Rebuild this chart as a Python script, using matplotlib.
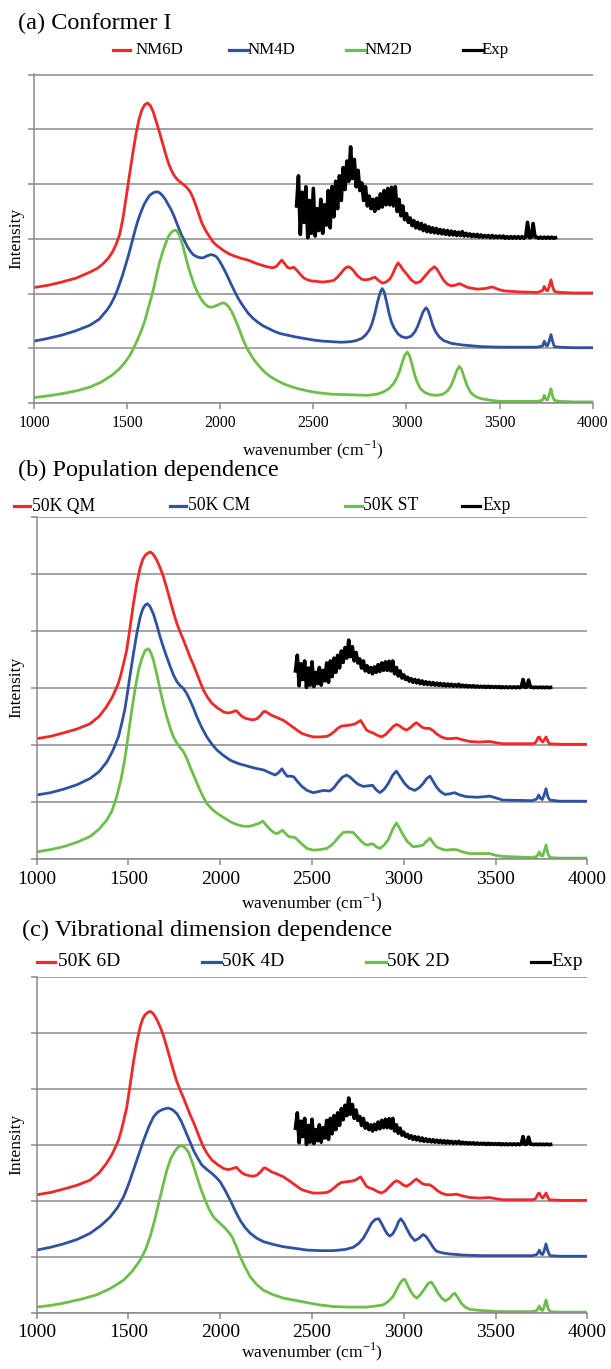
import numpy as np
import matplotlib
matplotlib.use("Agg")
import matplotlib.pyplot as plt
from matplotlib.lines import Line2D

plt.rcParams['font.family'] = ['Liberation Serif', 'DejaVu Serif']
plt.rcParams['mathtext.fontset'] = 'custom'
plt.rcParams['mathtext.rm'] = 'Liberation Serif'

# colours
c_red = '#f02828'
c_blue = '#3050a0'
c_green = '#6ebe4a'
c_grid = '#8a8a8a'

# spectra as (wavenumber, intensity) pairs, intensity in grid units (0..6)
# ---------------- (a) Conformer I ----------------
a_nm6d = [(1000, 2.11), (1075, 2.15), (1150, 2.21), (1225, 2.28), (1300, 2.39), (1340, 2.46),
          (1370, 2.54), (1400, 2.65), (1420, 2.75), (1440, 2.89), (1460, 3.08), (1478, 3.38),
          (1495, 3.76), (1512, 4.15), (1530, 4.55), (1548, 4.92), (1565, 5.20), (1580, 5.36),
          (1595, 5.45), (1610, 5.48), (1625, 5.43), (1640, 5.32), (1660, 5.10), (1675, 4.93),
          (1690, 4.75), (1705, 4.57), (1720, 4.40), (1735, 4.27), (1750, 4.17), (1765, 4.10),
          (1780, 4.05), (1795, 4.01), (1810, 3.97), (1825, 3.92), (1840, 3.85), (1855, 3.74),
          (1870, 3.60), (1885, 3.45), (1900, 3.30), (1920, 3.16), (1940, 3.05), (1960, 2.95),
          (1980, 2.88), (2000, 2.83), (2020, 2.78), (2050, 2.72), (2080, 2.68), (2115, 2.64),
          (2150, 2.61), (2185, 2.56), (2220, 2.52), (2250, 2.49), (2280, 2.47), (2300, 2.49),
          (2315, 2.55), (2330, 2.61), (2345, 2.55), (2360, 2.48), (2375, 2.46), (2395, 2.48),
          (2410, 2.43), (2430, 2.35), (2450, 2.28), (2470, 2.25), (2490, 2.23), (2520, 2.22),
          (2550, 2.21), (2580, 2.22), (2610, 2.24), (2630, 2.30), (2650, 2.38), (2670, 2.46),
          (2685, 2.49), (2700, 2.47), (2715, 2.42), (2735, 2.33), (2760, 2.26), (2780, 2.25),
          (2800, 2.26), (2815, 2.28), (2830, 2.30), (2850, 2.24), (2870, 2.19), (2890, 2.21),
          (2910, 2.26), (2925, 2.35), (2940, 2.47), (2955, 2.56), (2965, 2.52), (2980, 2.44),
          (3000, 2.36), (3025, 2.25), (3050, 2.19), (3075, 2.22), (3100, 2.32), (3125, 2.42),
          (3150, 2.49), (3165, 2.44), (3180, 2.35), (3200, 2.24), (3220, 2.17), (3240, 2.14),
          (3260, 2.15), (3285, 2.18), (3305, 2.15), (3330, 2.11), (3380, 2.08), (3420, 2.09),
          (3460, 2.12), (3490, 2.08), (3520, 2.05), (3600, 2.03), (3700, 2.02), (3730, 2.05),
          (3740, 2.13), (3750, 2.06), (3758, 2.05), (3768, 2.15), (3776, 2.25), (3785, 2.12),
          (3794, 2.04), (3820, 2.02), (3900, 2.01), (4000, 2.01)]

a_nm4d = [(1000, 1.13), (1075, 1.18), (1150, 1.24), (1225, 1.32), (1300, 1.42), (1350, 1.53),
          (1390, 1.69), (1410, 1.79), (1430, 1.92), (1445, 2.04), (1460, 2.18), (1475, 2.33),
          (1490, 2.50), (1505, 2.67), (1520, 2.86), (1540, 3.12), (1555, 3.30), (1570, 3.45),
          (1590, 3.62), (1605, 3.71), (1620, 3.79), (1640, 3.84), (1660, 3.86), (1675, 3.84),
          (1690, 3.79), (1705, 3.72), (1720, 3.63), (1735, 3.54), (1750, 3.43), (1765, 3.30),
          (1780, 3.17), (1795, 3.05), (1810, 2.95), (1825, 2.85), (1840, 2.77), (1855, 2.71),
          (1870, 2.68), (1885, 2.66), (1900, 2.65), (1915, 2.66), (1930, 2.69), (1950, 2.71),
          (1965, 2.70), (1980, 2.67), (1995, 2.60), (2010, 2.51), (2030, 2.38), (2045, 2.27),
          (2060, 2.16), (2080, 2.02), (2100, 1.89), (2125, 1.76), (2150, 1.64), (2175, 1.55),
          (2200, 1.48), (2230, 1.41), (2260, 1.36), (2290, 1.31), (2320, 1.27), (2360, 1.24),
          (2400, 1.21), (2450, 1.18), (2500, 1.15), (2550, 1.13), (2600, 1.12), (2650, 1.11),
          (2700, 1.12), (2730, 1.14), (2760, 1.18), (2780, 1.24), (2800, 1.33), (2815, 1.45),
          (2830, 1.63), (2845, 1.85), (2860, 2.03), (2870, 2.09), (2880, 2.03), (2893, 1.85),
          (2907, 1.63), (2920, 1.47), (2935, 1.36), (2955, 1.26), (2975, 1.21), (3000, 1.19),
          (3025, 1.22), (3045, 1.30), (3060, 1.40), (3075, 1.54), (3090, 1.67), (3105, 1.74),
          (3115, 1.70), (3128, 1.57), (3140, 1.43), (3155, 1.31), (3175, 1.21), (3200, 1.14),
          (3240, 1.09), (3300, 1.06), (3400, 1.03), (3500, 1.02), (3700, 1.02), (3730, 1.04),
          (3740, 1.13), (3750, 1.05), (3758, 1.05), (3768, 1.15), (3776, 1.25), (3785, 1.12),
          (3794, 1.03), (3820, 1.02), (3900, 1.01), (4000, 1.01)]

a_nm2d = [(1000, 0.10), (1075, 0.13), (1150, 0.17), (1225, 0.22), (1300, 0.29), (1360, 0.38),
          (1420, 0.51), (1460, 0.63), (1490, 0.75), (1515, 0.87), (1535, 1.00), (1555, 1.15),
          (1575, 1.31), (1595, 1.50), (1615, 1.75), (1630, 1.93), (1645, 2.13), (1660, 2.37),
          (1675, 2.58), (1690, 2.75), (1705, 2.90), (1720, 3.03), (1735, 3.11), (1750, 3.15),
          (1760, 3.16), (1770, 3.13), (1785, 3.03), (1800, 2.86), (1815, 2.66), (1830, 2.47),
          (1845, 2.31), (1860, 2.16), (1875, 2.04), (1890, 1.94), (1905, 1.86), (1920, 1.80),
          (1935, 1.76), (1950, 1.75), (1965, 1.76), (1980, 1.78), (2000, 1.81), (2015, 1.83),
          (2030, 1.81), (2045, 1.76), (2060, 1.68), (2075, 1.57), (2090, 1.45), (2105, 1.32),
          (2120, 1.18), (2135, 1.06), (2150, 0.96), (2170, 0.85), (2190, 0.75), (2215, 0.65),
          (2240, 0.56), (2270, 0.48), (2300, 0.42), (2340, 0.35), (2380, 0.30), (2420, 0.26),
          (2470, 0.22), (2520, 0.19), (2600, 0.16), (2700, 0.15), (2790, 0.14), (2840, 0.16),
          (2875, 0.20), (2905, 0.26), (2930, 0.35), (2950, 0.47), (2965, 0.60), (2980, 0.77),
          (2992, 0.88), (3005, 0.93), (3017, 0.86), (3030, 0.70), (3042, 0.54), (3055, 0.40),
          (3075, 0.26), (3100, 0.19), (3130, 0.15), (3165, 0.14), (3195, 0.16), (3220, 0.22),
          (3240, 0.32), (3255, 0.45), (3270, 0.59), (3283, 0.67), (3295, 0.62), (3310, 0.47),
          (3325, 0.32), (3345, 0.19), (3370, 0.12), (3400, 0.08), (3450, 0.05), (3500, 0.03),
          (3700, 0.03), (3730, 0.05), (3740, 0.14), (3750, 0.06), (3758, 0.06), (3768, 0.17),
          (3776, 0.26), (3785, 0.12), (3794, 0.05), (3820, 0.03), (3900, 0.02), (4000, 0.02)]

# ---------------- (b) Population dependence ----------------
b_qm = [(1000, 2.11), (1075, 2.15), (1145, 2.21), (1220, 2.28), (1290, 2.37), (1340, 2.50),
        (1380, 2.67), (1410, 2.83), (1430, 2.97), (1445, 3.08), (1460, 3.25), (1475, 3.45),
        (1490, 3.66), (1508, 4.05), (1527, 4.48), (1545, 4.83), (1564, 5.12), (1578, 5.26),
        (1591, 5.33), (1605, 5.37), (1618, 5.39), (1632, 5.36), (1645, 5.30), (1655, 5.24),
        (1673, 5.11), (1691, 4.95), (1709, 4.75), (1727, 4.54), (1745, 4.33), (1764, 4.13),
        (1782, 3.98), (1800, 3.84), (1818, 3.69), (1836, 3.54), (1855, 3.40), (1873, 3.25),
        (1891, 3.10), (1909, 2.96), (1930, 2.84), (1955, 2.73), (1985, 2.65), (2018, 2.58),
        (2040, 2.56), (2060, 2.57), (2075, 2.59), (2088, 2.60), (2100, 2.56), (2115, 2.51),
        (2135, 2.47), (2160, 2.45), (2180, 2.44), (2200, 2.46), (2220, 2.52), (2235, 2.58),
        (2245, 2.59), (2260, 2.56), (2280, 2.52), (2310, 2.48), (2345, 2.43), (2380, 2.35),
        (2418, 2.26), (2445, 2.20), (2473, 2.17), (2507, 2.14), (2545, 2.14), (2580, 2.15),
        (2600, 2.18), (2620, 2.23), (2640, 2.29), (2660, 2.33), (2685, 2.34), (2710, 2.35),
        (2735, 2.37), (2755, 2.41), (2765, 2.43), (2780, 2.35), (2797, 2.26), (2815, 2.23),
        (2833, 2.21), (2855, 2.17), (2879, 2.14), (2900, 2.18), (2924, 2.26), (2945, 2.33),
        (2960, 2.36), (2975, 2.34), (2995, 2.29), (3015, 2.26), (3035, 2.30), (3055, 2.36),
        (3069, 2.39), (3085, 2.35), (3100, 2.31), (3120, 2.29), (3140, 2.29), (3160, 2.25),
        (3180, 2.19), (3205, 2.14), (3232, 2.11), (3260, 2.11), (3286, 2.12), (3320, 2.09),
        (3359, 2.06), (3410, 2.05), (3467, 2.06), (3500, 2.04), (3540, 2.02), (3700, 2.02),
        (3715, 2.03), (3725, 2.08), (3732, 2.13), (3739, 2.14), (3748, 2.08), (3757, 2.05),
        (3766, 2.09), (3775, 2.14), (3784, 2.07), (3793, 2.02), (3850, 2.01), (4000, 2.01)]

b_cm = [(1000, 1.12), (1075, 1.16), (1145, 1.22), (1220, 1.30), (1291, 1.41), (1340, 1.53),
        (1382, 1.70), (1415, 1.90), (1445, 2.14), (1465, 2.40), (1480, 2.62), (1491, 2.84),
        (1510, 3.25), (1527, 3.60), (1545, 3.95), (1564, 4.25), (1578, 4.39), (1592, 4.46),
        (1604, 4.48), (1618, 4.43), (1636, 4.30), (1655, 4.10), (1673, 3.89), (1691, 3.71),
        (1709, 3.54), (1727, 3.38), (1745, 3.23), (1764, 3.11), (1782, 3.04), (1800, 2.99),
        (1818, 2.90), (1836, 2.78), (1855, 2.64), (1873, 2.49), (1900, 2.30), (1927, 2.14),
        (1955, 2.01), (1982, 1.91), (2015, 1.82), (2055, 1.73), (2100, 1.67), (2145, 1.63),
        (2190, 1.59), (2236, 1.56), (2270, 1.51), (2300, 1.47), (2320, 1.52), (2336, 1.58),
        (2350, 1.51), (2364, 1.45), (2385, 1.45), (2400, 1.44), (2420, 1.36), (2445, 1.27),
        (2473, 1.20), (2507, 1.16), (2535, 1.18), (2562, 1.20), (2598, 1.19), (2620, 1.25),
        (2643, 1.35), (2665, 1.43), (2688, 1.47), (2705, 1.44), (2725, 1.38), (2750, 1.31),
        (2779, 1.27), (2805, 1.28), (2830, 1.29), (2850, 1.21), (2870, 1.16), (2893, 1.22),
        (2915, 1.32), (2940, 1.47), (2960, 1.54), (2980, 1.44), (3005, 1.32), (3030, 1.24),
        (3060, 1.20), (3085, 1.25), (3105, 1.32), (3125, 1.41), (3143, 1.45), (3160, 1.36),
        (3178, 1.26), (3200, 1.18), (3223, 1.13), (3250, 1.14), (3277, 1.16), (3305, 1.12),
        (3341, 1.09), (3400, 1.08), (3440, 1.09), (3467, 1.10), (3500, 1.07), (3540, 1.03),
        (3700, 1.02), (3725, 1.05), (3735, 1.12), (3745, 1.06), (3755, 1.04), (3765, 1.12),
        (3775, 1.23), (3786, 1.08), (3797, 1.03), (3850, 1.01), (4000, 1.01)]

b_st = [(1000, 0.12), (1075, 0.16), (1145, 0.21), (1220, 0.29), (1291, 0.39), (1340, 0.52),
        (1382, 0.68), (1410, 0.84), (1436, 1.09), (1460, 1.40), (1482, 1.79), (1500, 2.20),
        (1518, 2.61), (1537, 3.00), (1555, 3.31), (1573, 3.52), (1591, 3.66), (1609, 3.69),
        (1622, 3.62), (1636, 3.49), (1655, 3.23), (1673, 2.96), (1691, 2.71), (1709, 2.49),
        (1727, 2.30), (1745, 2.14), (1764, 2.03), (1782, 1.95), (1800, 1.88), (1818, 1.76),
        (1836, 1.61), (1860, 1.43), (1882, 1.26), (1905, 1.10), (1927, 0.97), (1955, 0.87),
        (1982, 0.80), (2020, 0.72), (2055, 0.65), (2090, 0.60), (2127, 0.57), (2160, 0.57),
        (2182, 0.59), (2210, 0.62), (2233, 0.66), (2250, 0.59), (2273, 0.51), (2292, 0.46),
        (2309, 0.44), (2325, 0.47), (2340, 0.50), (2356, 0.44), (2373, 0.39), (2390, 0.38),
        (2409, 0.37), (2440, 0.27), (2473, 0.18), (2507, 0.15), (2545, 0.16), (2580, 0.18),
        (2603, 0.23), (2625, 0.30), (2648, 0.39), (2670, 0.46), (2700, 0.47), (2725, 0.46),
        (2748, 0.38), (2770, 0.30), (2790, 0.25), (2806, 0.24), (2820, 0.26), (2833, 0.26),
        (2850, 0.21), (2870, 0.18), (2893, 0.24), (2915, 0.33), (2940, 0.52), (2960, 0.63),
        (2978, 0.53), (2996, 0.42), (3020, 0.30), (3051, 0.21), (3080, 0.22), (3105, 0.24),
        (3125, 0.31), (3143, 0.36), (3160, 0.28), (3178, 0.21), (3205, 0.17), (3232, 0.15),
        (3260, 0.16), (3286, 0.16), (3320, 0.12), (3359, 0.09), (3420, 0.09), (3467, 0.09),
        (3500, 0.06), (3540, 0.04), (3700, 0.02), (3725, 0.04), (3739, 0.12), (3748, 0.05),
        (3757, 0.05), (3766, 0.14), (3775, 0.24), (3786, 0.08), (3797, 0.02), (3850, 0.01),
        (4000, 0.01)]

# ---------------- (c) Vibrational dimension dependence ----------------
# 50K 6D is the same spectrum as 50K QM
c_6d = b_qm

c_4d = [(1000, 1.12), (1075, 1.17), (1145, 1.23), (1220, 1.31), (1291, 1.42), (1350, 1.56),
        (1400, 1.71), (1440, 1.88), (1473, 2.07), (1500, 2.29), (1527, 2.55), (1555, 2.82),
        (1582, 3.08), (1610, 3.32), (1636, 3.50), (1660, 3.59), (1682, 3.63), (1700, 3.65),
        (1718, 3.66), (1740, 3.63), (1764, 3.56), (1787, 3.43), (1809, 3.26), (1832, 3.08),
        (1855, 2.90), (1878, 2.76), (1900, 2.64), (1928, 2.56), (1955, 2.49), (1978, 2.42),
        (2000, 2.34), (2028, 2.18), (2055, 2.01), (2082, 1.82), (2109, 1.65), (2136, 1.52),
        (2164, 1.42), (2200, 1.33), (2236, 1.27), (2290, 1.22), (2345, 1.18), (2410, 1.15),
        (2473, 1.12), (2550, 1.11), (2616, 1.11), (2680, 1.13), (2725, 1.17), (2755, 1.24),
        (2779, 1.33), (2800, 1.45), (2824, 1.60), (2845, 1.67), (2864, 1.68), (2880, 1.59),
        (2897, 1.48), (2910, 1.41), (2924, 1.37), (2940, 1.41), (2957, 1.51), (2972, 1.63),
        (2984, 1.68), (2998, 1.62), (3015, 1.51), (3038, 1.37), (3060, 1.29), (3082, 1.33),
        (3105, 1.40), (3122, 1.36), (3141, 1.27), (3160, 1.17), (3178, 1.10), (3210, 1.07),
        (3250, 1.05), (3330, 1.03), (3431, 1.02), (3700, 1.02), (3725, 1.04), (3739, 1.12),
        (3748, 1.05), (3757, 1.04), (3766, 1.12), (3775, 1.23), (3786, 1.09), (3797, 1.02),
        (3850, 1.01), (4000, 1.01)]

c_2d = [(1000, 0.10), (1075, 0.13), (1145, 0.17), (1240, 0.24), (1327, 0.32), (1400, 0.43),
        (1473, 0.58), (1520, 0.74), (1564, 0.94), (1592, 1.12), (1618, 1.36), (1641, 1.63),
        (1664, 1.95), (1687, 2.26), (1709, 2.55), (1732, 2.77), (1755, 2.90), (1773, 2.97),
        (1791, 2.99), (1809, 2.95), (1827, 2.87), (1850, 2.67), (1873, 2.43), (1895, 2.21),
        (1918, 2.01), (1941, 1.84), (1964, 1.71), (1991, 1.62), (2018, 1.54), (2041, 1.46),
        (2064, 1.36), (2087, 1.19), (2109, 1.00), (2136, 0.81), (2164, 0.64), (2200, 0.50),
        (2236, 0.40), (2290, 0.32), (2345, 0.26), (2410, 0.22), (2473, 0.18), (2540, 0.14),
        (2616, 0.11), (2700, 0.10), (2797, 0.10), (2850, 0.12), (2888, 0.14), (2915, 0.20),
        (2942, 0.29), (2962, 0.42), (2978, 0.52), (2992, 0.58), (3005, 0.60), (3020, 0.50),
        (3038, 0.38), (3055, 0.30), (3072, 0.26), (3092, 0.33), (3114, 0.43), (3132, 0.52),
        (3150, 0.55), (3168, 0.46), (3187, 0.35), (3207, 0.26), (3227, 0.21), (3250, 0.26),
        (3265, 0.32), (3277, 0.35), (3295, 0.27), (3313, 0.17), (3335, 0.10), (3359, 0.06),
        (3420, 0.04), (3522, 0.02), (3700, 0.02), (3725, 0.04), (3739, 0.12), (3748, 0.05),
        (3757, 0.04), (3766, 0.12), (3775, 0.23), (3786, 0.08), (3797, 0.02), (3850, 0.01),
        (4000, 0.01)]

# ---------------- experiment (height above its baseline, panel (a) scale) ----------------
exp_wn = np.arange(2410, 3801, 10)
exp_h = [0.60, 1.15, 0.08, 0.85, 0.30, 0.95, 0.02, 0.70, 0.10, 0.92,
         0.05, 0.55, 0.15, 0.72, 0.10, 0.62, 0.25, 0.88, 0.20, 0.95,
         0.40, 1.05, 0.55, 1.15, 0.70, 1.30, 0.90, 1.42, 1.05, 1.68,
         1.10, 1.45, 0.95, 1.25, 0.88, 1.02, 0.70, 0.95, 0.60, 0.78,
         0.55, 0.72, 0.50, 0.74, 0.55, 0.82, 0.58, 0.88, 0.62, 0.92,
         0.62, 0.94, 0.60, 0.95, 0.50, 0.72, 0.42, 0.60, 0.35, 0.46,
         0.30, 0.38, 0.24, 0.33, 0.20, 0.30, 0.18, 0.28, 0.15, 0.25,
         0.13, 0.22, 0.12, 0.20, 0.11, 0.19, 0.10, 0.17, 0.09, 0.16,
         0.08, 0.15, 0.07, 0.14, 0.07, 0.13, 0.06, 0.12, 0.06, 0.13,
         0.05, 0.10, 0.05, 0.09, 0.04, 0.08, 0.04, 0.08, 0.03, 0.07,
         0.03, 0.06, 0.03, 0.06, 0.02, 0.06, 0.02, 0.05, 0.02, 0.05,
         0.02, 0.05, 0.01, 0.04, 0.01, 0.04, 0.01, 0.04, 0.01, 0.04,
         0.01, 0.04, 0.01, 0.03, 0.30, 0.02, 0.03, 0.28, 0.03, 0.03,
         0.01, 0.03, 0.01, 0.03, 0.01, 0.03, 0.01, 0.03, 0.01, 0.02]
exp_base = 3.0
exp_scale = {'a': 1.0, 'b': 0.5, 'c': 0.5}

panels = [
    dict(key='a', title='(a) Conformer I', box=(34, 592.7, 74, 403), title_xy=(18, 23),
         legend_y=50, tick_size=11.3, tick_pad=5, xlab_y=450, title_size=17.5,
         legend_size=12.2,
         series=[('NM6D', c_red, a_nm6d), ('NM4D', c_blue, a_nm4d), ('NM2D', c_green, a_nm2d)],
         legend_pos=[(113, 130, 136), (229, 248, 248), (346, 365, 365), (463, 482, 482)]),
    dict(key='b', title='(b) Population dependence', box=(36.7, 587.3, 516.7, 858.7),
         title_xy=(18, 470), legend_y=506, tick_size=14, tick_pad=5, xlab_y=903,
         title_size=17.5, legend_size=12.7,
         series=[('50K QM', c_red, b_qm), ('50K CM', c_blue, b_cm), ('50K ST', c_green, b_st)],
         legend_pos=[(14, 30, 32), (170, 186, 188), (345, 362, 363), (462, 480, 482)]),
    dict(key='c', title='(c) Vibrational dimension dependence', box=(36.7, 587.3, 976.7, 1312.7),
         title_xy=(22, 930), legend_y=962, tick_size=14, tick_pad=4, xlab_y=1352,
         title_size=17.5, legend_size=14,
         series=[('50K 6D', c_red, c_6d), ('50K 4D', c_blue, c_4d), ('50K 2D', c_green, c_2d)],
         legend_pos=[(37, 55, 58), (202, 221, 222), (366, 386, 387), (531, 550, 551)]),
]

W, H = 611, 1369
fig = plt.figure(figsize=(W / 100, H / 100), dpi=100)


def fx(px):
    return px / W


def fy(py):
    return 1 - py / H


for p in panels:
    l, r, t, b = p['box']
    ax = fig.add_axes([fx(l), fy(b), (r - l) / W, (b - t) / H])
    for label, col, pts in p['series']:
        wn, yv = zip(*pts)
        ax.plot(wn, yv, color=col, lw=2.0, label=label, solid_joinstyle='round')
    ax.plot(exp_wn, exp_base + exp_scale[p['key']] * np.array(exp_h), color='black',
            lw=2.6, label='Exp')

    ax.set_xlim(1000, 4000)
    ax.set_ylim(0, 6.01)
    ax.set_xticks(range(1000, 4001, 500))
    ax.set_yticks(range(0, 7))
    ax.set_yticklabels([])
    ax.grid(axis='y', color=c_grid, lw=1.1)
    ax.set_axisbelow(True)
    for s in ['top', 'right']:
        ax.spines[s].set_visible(False)
    for s in ['left', 'bottom']:
        ax.spines[s].set_color(c_grid)
        ax.spines[s].set_linewidth(1.1)
    ax.tick_params(direction='out', color=c_grid, length=4, width=1.1,
                   labelsize=p['tick_size'], pad=p['tick_pad'])

    ax.set_xlabel('wavenumber (cm$^{-1}$)', fontsize=12.5)
    ax.xaxis.set_label_coords(0.5, (b - p['xlab_y']) / (b - t))
    ax.xaxis.label.set_va('center')
    ax.set_ylabel('Intensity', fontsize=12.5)
    ax.yaxis.set_label_coords((24 - l) / (r - l), 0.5)

    fig.text(fx(p['title_xy'][0]), fy(p['title_xy'][1]), p['title'],
             fontsize=p['title_size'], va='center', ha='left')

    # legend laid out in even slots like the original
    handles = [(s[0], s[1]) for s in p['series']] + [('Exp', 'black')]
    for (label, col), (x0, x1, xt) in zip(handles, p['legend_pos']):
        yy = fy(p['legend_y'])
        fig.add_artist(Line2D([fx(x0), fx(x1)], [yy, yy], transform=fig.transFigure,
                              color=col, lw=2.3))
        fig.text(fx(xt), yy, label, fontsize=p['legend_size'], va='center', ha='left')

fig.savefig('out.png', dpi=100)
